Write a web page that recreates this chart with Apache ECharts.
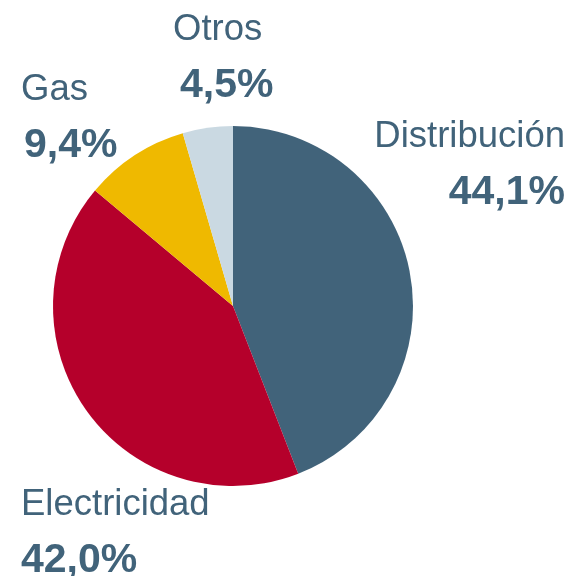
<!DOCTYPE html>
<html>
<head>
<meta charset="utf-8">
<script src="https://cdn.jsdelivr.net/npm/echarts@6/dist/echarts.min.js"></script>
<style>
  html, body { margin: 0; padding: 0; background: #ffffff; }
  #chart { width: 574px; height: 576px; }
</style>
</head>
<body>
<div id="chart"></div>
<script>
// Shares by business segment (%)
const categories = ['Distribución', 'Electricidad', 'Gas', 'Otros'];
const shares = [44.1, 42.0, 9.4, 4.5];
const sliceColors = ['#41637a', '#b5002b', '#efb900', '#cad9e2'];

const textColor = '#41637a';

// Anchor of each label block: [x, y, horizontal alignment, indent of the value line]
const labelAnchors = [
  [565, 109, 'right', 0],
  [21, 477, 'left', 0],
  [21, 62, 'left', 3],
  [173, 2, 'left', 7]
];

const fmt = v => v.toFixed(1).replace('.', ',') + '%';

const data = categories.map((name, i) => ({
  name: name,
  value: shares[i],
  itemStyle: { color: sliceColors[i] },
  label: {
    rich: {
      n: { fontSize: 36.5, fontFamily: 'Liberation Sans, Arial, sans-serif', color: textColor,
           lineHeight: 56, align: labelAnchors[i][2] },
      v: { fontSize: 41, fontWeight: 'bold', fontFamily: 'Liberation Sans, Arial, sans-serif',
           color: textColor, lineHeight: 56,
           align: labelAnchors[i][2] === 'right' ? 'right' : 'left',
           padding: [0, 0, 0, labelAnchors[i][3]] }
    }
  }
}));

const chart = echarts.init(document.getElementById('chart'), null, { renderer: 'canvas' });
chart.setOption({
  animation: false,
  series: [{
    type: 'pie',
    center: [233, 306],
    radius: [0, 180],
    startAngle: 90,
    clockwise: true,
    avoidLabelOverlap: false,
    data: data,
    itemStyle: { borderWidth: 0 },
    emphasis: { disabled: true },
    labelLine: { show: false },
    label: {
      show: true,
      position: 'outside',
      formatter: p => '{n|' + p.name + '}\n{v|' + fmt(p.value) + '}'
    },
    labelLayout: params => {
      const a = labelAnchors[params.dataIndex];
      return { x: a[0], y: a[1], align: a[2], verticalAlign: 'top', hideOverlap: false };
    }
  }]
});
</script>
</body>
</html>
